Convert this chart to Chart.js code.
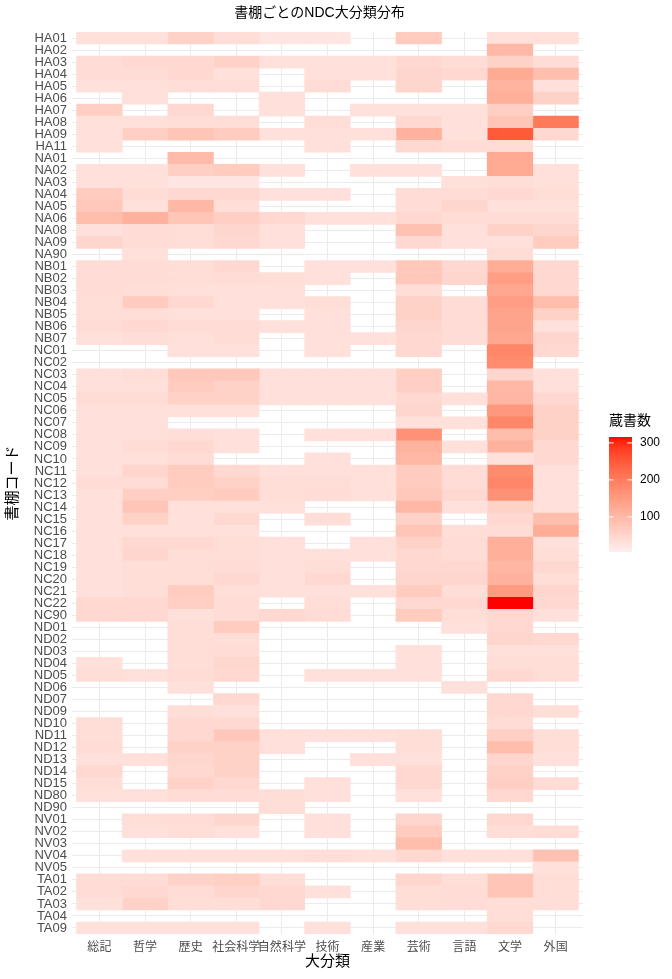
<!DOCTYPE html>
<html lang="ja">
<head>
<meta charset="UTF-8">
<title>書棚ごとのNDC大分類分布</title>
<script src="https://cdn.jsdelivr.net/npm/chart.js"></script>
<style>
  body { margin: 0; background: #ffffff; }
  canvas { display: block; }
</style>
</head>
<body>
<canvas id="heatmap" width="672" height="979"></canvas>
<script>
// shelf codes (rows, top to bottom)
const shelves = [
  'HA01','HA02','HA03','HA04','HA05','HA06','HA07','HA08','HA09','HA11',
  'NA01','NA02','NA03','NA04','NA05','NA06','NA08','NA09','NA90',
  'NB01','NB02','NB03','NB04','NB05','NB06','NB07',
  'NC01','NC02','NC03','NC04','NC05','NC06','NC07','NC08','NC09','NC10','NC11','NC12','NC13','NC14','NC15','NC16','NC17','NC18','NC19','NC20','NC21','NC22','NC90',
  'ND01','ND02','ND03','ND04','ND05','ND06','ND07','ND09','ND10','ND11','ND12','ND13','ND14','ND15','ND80','ND90',
  'NV01','NV02','NV03','NV04','NV05',
  'TA01','TA02','TA03','TA04','TA09'
];

// NDC main classes (columns)
const classes = ['総記','哲学','歴史','社会科学','自然科学','技術','産業','芸術','言語','文学','外国'];

// book counts per class, one entry per shelf (null = no books)
const soki = [30,null,37,37,30,null,60,30,30,30, null,30,30,66,72,92,30,48,null, 37,37,37,34,34,37,30, null,null,30,30,37,30,30,30,30,30,30,37,30,30,30,30,30,30,30,30,30,42,42, null,null,null,30,34,null,null,null,34,34,37,30,42,34,30,null, null,null,null,null,null, 37,37,30,null,30];
const tetsugaku = [30,null,42,37,30,30,null,30,60,null, null,30,30,37,30,112,37,37,30, 37,37,34,66,34,42,34, null,null,34,30,37,30,30,30,37,30,48,37,60,78,55,30,42,48,34,34,34,42,42, null,null,null,null,30,null,null,null,null,null,null,30,null,null,30,null, 34,30,null,30,null, 37,42,55,null,30];
const rekishi = [55,null,42,42,34,null,42,34,78,null, 96,60,20,42,100,78,34,34,null, 34,34,30,42,30,37,30, 30,null,72,66,55,30,null,34,42,37,66,66,60,30,30,30,42,34,34,34,66,60,30, 34,34,34,34,37,30,null,34,42,42,55,48,42,55,37,null, 37,34,null,30,null, 55,37,34,null,30];
const shakai = [34,null,55,30,34,null,null,34,66,null, null,66,20,42,34,60,48,42,null, 42,37,30,30,30,37,37, 30,null,72,55,55,30,null,30,30,null,42,55,66,30,42,30,34,34,37,42,34,37,37, 66,34,37,48,42,null,42,30,42,72,55,55,55,42,37,null, 48,30,null,30,null, 60,48,34,null,30];
const shizen = [20,null,30,null,null,30,30,null,30,null, null,30,null,30,null,42,30,30,null, null,34,30,30,null,30,null, null,null,30,30,30,null,null,null,null,null,30,34,34,30,null,null,30,30,30,30,30,null,42, null,null,null,null,null,null,null,null,null,30,30,null,null,null,34,34, null,null,null,30,null, 34,42,42,null,null];
const gijutsu = [20,null,30,30,37,null,null,34,30,30, null,null,null,30,null,30,null,null,null, 30,30,null,34,30,30,30, 30,null,30,30,30,null,null,30,null,30,30,34,37,null,34,null,null,30,34,42,30,34,37, null,null,null,null,30,null,null,null,null,30,null,null,null,30,30,null, 30,30,null,34,null, null,30,null,null,30];
const sangyo = [null,null,30,30,null,null,30,null,30,null, null,30,null,null,null,30,null,null,null, 30,null,null,null,null,null,30, null,null,30,30,30,null,null,30,null,null,30,30,30,null,null,null,30,30,null,null,30,null,null, null,null,null,null,30,null,null,null,null,30,null,30,null,null,null,null, null,null,null,30,null, null,null,null,null,null];
const geijutsu = [66,null,42,48,48,null,30,42,112,42, null,30,null,37,37,42,84,42,null, 72,72,34,55,55,48,42, 42,null,60,60,42,48,30,165,112,100,66,66,72,100,55,78,55,42,42,48,66,42,66, null,null,30,30,30,null,null,null,null,34,34,30,42,42,30,null, 48,66,92,42,null, 48,34,34,null,30];
const gengo = [null,null,37,42,null,null,30,30,30,37, null,null,30,37,48,37,30,30,null, 42,48,null,37,37,37,37, null,null,null,null,30,null,30,null,30,null,37,37,42,30,null,34,37,37,42,48,34,42,34, 30,null,null,null,null,30,null,null,null,null,null,null,null,null,null,null, null,null,null,30,null, 34,37,37,null,30];
const bungaku = [30,100,55,125,108,116,60,78,250,37, 125,125,34,42,30,37,55,30,37, 120,145,130,145,135,135,130, 185,175,48,100,104,155,185,92,112,30,175,185,165,55,42,37,116,116,104,112,150,316,42, 42,48,30,34,42,null,42,42,37,60,92,48,55,60,42,null, 42,34,null,30,null, 78,78,34,34,42];
const gaikoku = [30,null,37,88,30,55,null,205,42,null, null,30,30,34,30,37,48,66,null, 42,42,42,92,55,30,48, 42,null,30,30,42,55,55,55,42,42,30,30,30,30,88,120,30,34,42,34,48,42,30, null,42,30,34,34,null,null,34,null,34,34,30,null,37,null,null, null,37,null,84,30, 34,34,34,null,null];

const columns = [soki, tetsugaku, rekishi, shakai, shizen, gijutsu, sangyo, geijutsu, gengo, bungaku, gaikoku];

// fill scale (low -> high, interpolated in Lab like ggplot)
const fillLimits = [5, 316];
const legendBreaks = [100, 200, 300];
const lowColour = '#FFEEEE';
const highColour = '#FF0000';

const latinFont = '"Liberation Sans", Arial, "Noto Sans CJK JP", sans-serif';

function toLin(c) { c /= 255; return c <= 0.04045 ? c / 12.92 : Math.pow((c + 0.055) / 1.055, 2.4); }
function toSrgb(c) {
  c = c <= 0.0031308 ? 12.92 * c : 1.055 * Math.pow(c, 1 / 2.4) - 0.055;
  return Math.round(Math.max(0, Math.min(1, c)) * 255);
}
function hexToLab(hex) {
  const r = toLin(parseInt(hex.slice(1, 3), 16));
  const g = toLin(parseInt(hex.slice(3, 5), 16));
  const b = toLin(parseInt(hex.slice(5, 7), 16));
  const X = (0.4124 * r + 0.3576 * g + 0.1805 * b) / 0.95047;
  const Y = 0.2126 * r + 0.7152 * g + 0.0722 * b;
  const Z = (0.0193 * r + 0.1192 * g + 0.9505 * b) / 1.08883;
  const f = t => t > 0.008856 ? Math.cbrt(t) : 7.787 * t + 16 / 116;
  const fx = f(X), fy = f(Y), fz = f(Z);
  return [116 * fy - 16, 500 * (fx - fy), 200 * (fy - fz)];
}
function labToCss(L, a, bb) {
  const fy = (L + 16) / 116, fx = fy + a / 500, fz = fy - bb / 200;
  const inv = t => t * t * t > 0.008856 ? t * t * t : (t - 16 / 116) / 7.787;
  const X = 0.95047 * inv(fx), Y = inv(fy), Z = 1.08883 * inv(fz);
  const r = 3.2406 * X - 1.5372 * Y - 0.4986 * Z;
  const g = -0.9689 * X + 1.8758 * Y + 0.0415 * Z;
  const b = 0.0557 * X - 0.2040 * Y + 1.0570 * Z;
  return 'rgb(' + toSrgb(r) + ',' + toSrgb(g) + ',' + toSrgb(b) + ')';
}
const labLow = hexToLab(lowColour);
const labHigh = hexToLab(highColour);
function fillColour(v) {
  let t = (v - fillLimits[0]) / (fillLimits[1] - fillLimits[0]);
  t = Math.max(0, Math.min(1, t));
  return labToCss(
    labLow[0] + (labHigh[0] - labLow[0]) * t,
    labLow[1] + (labHigh[1] - labLow[1]) * t,
    labLow[2] + (labHigh[2] - labLow[2]) * t
  );
}

// one floating-bar dataset per class; each bar spans its column
const datasets = classes.map((cls, c) => ({
  label: cls,
  data: columns[c].map(v => v == null ? null : [c - 0.5, c + 0.5]),
  backgroundColor: columns[c].map(v => v == null ? 'rgba(0,0,0,0)' : fillColour(v)),
  borderWidth: 0,
  borderSkipped: false,
  grouped: false,
  barPercentage: 1,
  categoryPercentage: 1
}));

// title + colour bar legend
const decorations = {
  id: 'decorations',
  afterDraw(chart) {
    const ctx = chart.ctx;
    const area = chart.chartArea;
    ctx.save();

    ctx.fillStyle = '#000000';
    ctx.font = '14px ' + latinFont;
    ctx.textAlign = 'center';
    ctx.textBaseline = 'middle';
    ctx.fillText('書棚ごとのNDC大分類分布', (area.left + area.right) / 2 - 8, 13);

    const barW = 23, barH = 115;
    const x0 = area.right + 26;
    const mid = (area.top + area.bottom) / 2;
    const top = mid - 69;
    ctx.textAlign = 'left';
    ctx.textBaseline = 'top';
    ctx.font = '14px ' + latinFont;
    ctx.fillText('蔵書数', x0, top);

    const barTop = top + 23;
    const barBottom = barTop + barH;
    const span = fillLimits[1] - fillLimits[0];
    for (let i = 0; i < barH; i++) {
      const v = fillLimits[1] - (i + 0.5) / barH * span;
      ctx.fillStyle = fillColour(v);
      ctx.fillRect(x0, barTop + i, barW, 1.2);
    }

    ctx.font = '12px ' + latinFont;
    ctx.textBaseline = 'middle';
    ctx.strokeStyle = '#ffffff';
    ctx.lineWidth = 1;
    legendBreaks.forEach(b => {
      const y = barBottom - (b - fillLimits[0]) / span * barH;
      ctx.beginPath();
      ctx.moveTo(x0, y); ctx.lineTo(x0 + 4.6, y);
      ctx.moveTo(x0 + barW - 4.6, y); ctx.lineTo(x0 + barW, y);
      ctx.stroke();
      ctx.fillStyle = '#000000';
      ctx.fillText(String(b), x0 + barW + 8, y);
    });
    ctx.restore();
  }
};

const ctx = document.getElementById('heatmap').getContext('2d');
new Chart(ctx, {
  type: 'bar',
  data: { labels: shelves, datasets: datasets },
  options: {
    indexAxis: 'y',
    responsive: false,
    animation: false,
    layout: { padding: { top: 32, right: 89, bottom: 8, left: 4 } },
    plugins: {
      legend: { display: false },
      tooltip: { enabled: false },
      title: { display: false }
    },
    scales: {
      x: {
        type: 'linear',
        min: -0.6,
        max: 10.6,
        afterBuildTicks: s => { s.ticks = classes.map((_, i) => ({ value: i })); },
        afterFit: s => { s.height = 37; },
        ticks: {
          autoSkip: false,
          maxRotation: 0,
          padding: 6,
          color: '#4D4D4D',
          font: { family: latinFont, size: 12 },
          callback: v => classes[v]
        },
        grid: { color: '#EBEBEB', lineWidth: 1, drawTicks: false },
        border: { display: false },
        title: {
          display: true,
          text: '大分類',
          color: '#000000',
          padding: { top: 0, bottom: 0 },
          font: { family: latinFont, size: 15 }
        }
      },
      y: {
        type: 'category',
        offset: true,
        afterFit: s => { s.width = 68; },
        ticks: {
          autoSkip: false,
          padding: 5,
          color: '#4D4D4D',
          font: { family: latinFont, size: 13 }
        },
        grid: { color: '#EBEBEB', lineWidth: 1, drawTicks: false, offset: false },
        border: { display: false },
        title: {
          display: true,
          text: '書棚コード',
          color: '#000000',
          padding: { top: 0, bottom: 0 },
          font: { family: latinFont, size: 15 }
        }
      }
    }
  },
  plugins: [decorations]
});
</script>
</body>
</html>
